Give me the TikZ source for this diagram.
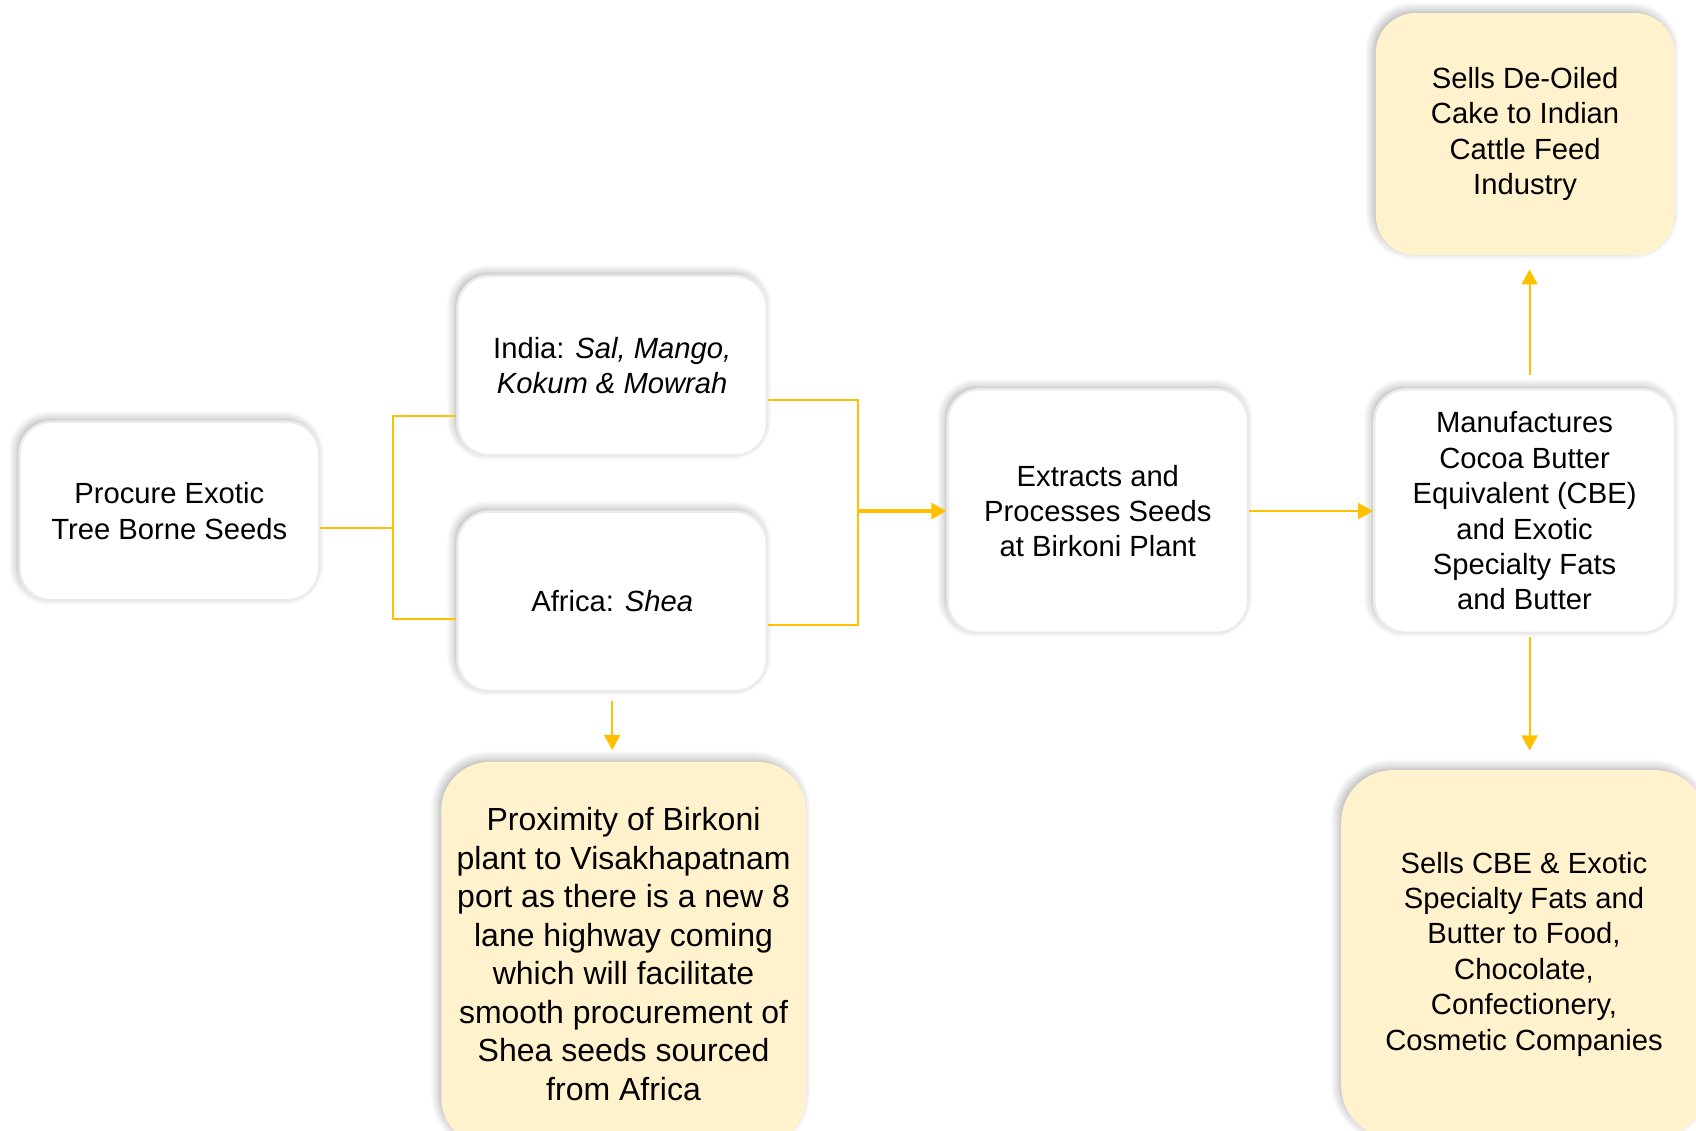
\documentclass[tikz,border=0pt]{standalone}
\usepackage{fontspec}
\setmainfont{Liberation Sans}
\usepackage{tikz}
\usetikzlibrary{positioning}
\usetikzlibrary{arrows.meta}
\usetikzlibrary{shadows.blur}
\pgfdeclarelayer{nodelayer}
\pgfdeclarelayer{edgelayer}
\pgfsetlayers{nodelayer,edgelayer,main}
\definecolor{amber}{HTML}{FFC000}
\definecolor{cream}{HTML}{FFF2CC}
\definecolor{rim}{HTML}{EBEBEB}
\tikzset{
  card/.style={rectangle, rounded corners=16pt, draw=rim, line width=1.2pt, fill=white,
    align=center, inner sep=0pt, font=\fontsize{14.6}{17.7}\selectfont,
    blur shadow={shadow xshift=-1.5pt, shadow yshift=1.5pt, shadow blur steps=8,
      shadow blur radius=4pt, shadow opacity=30}},
  note/.style={card, draw=none, fill=cream, rounded corners=24pt},
  seedbox/.style={card, minimum width=154.7pt, minimum height=89.8pt},
  plantbox/.style={card, minimum width=150.3pt, minimum height=121.7pt},
  link/.style={draw=amber, line width=1pt},
  flow/.style={link, -{Triangle[width=8pt,length=7.5pt]}},
}

\begin{document}
\begin{tikzpicture}[x=54.08pt, y=-54.08pt]
  \useasboundingbox (0,0) rectangle (15.68,10.45);
  \begin{pgfonlayer}{nodelayer}
    \node [card, minimum width=149.8pt, minimum height=89.2pt] (0) at (1.565, 4.725) {Procure Exotic\\Tree Borne Seeds};
    \node [seedbox] (1) at (5.66, 3.38) {India: \textit{Sal, Mango,}\\\textit{Kokum \& Mowrah}};
    \node [seedbox] (2) at (5.66, 5.56) {Africa: \textit{Shea}};
    \node [plantbox] (3) at (10.15, 4.725) {Extracts and\\Processes Seeds\\at Birkoni Plant};
    \node [plantbox] (4) at (14.095, 4.725) {Manufactures\\Cocoa Butter\\Equivalent (CBE)\\and Exotic\\Specialty Fats\\and Butter};
    \node [note, rounded corners=20pt, minimum width=149.3pt, minimum height=121.1pt] (5) at (14.10, 1.24) {Sells De-Oiled\\Cake to Indian\\Cattle Feed\\Industry};
    \node [note, rounded corners=26pt, minimum width=182.8pt, minimum height=183.9pt] (6) at (14.09, 8.82) {Sells CBE \& Exotic\\Specialty Fats and\\Butter to Food,\\Chocolate,\\Confectionery,\\Cosmetic Companies};
    \node [note, font=\fontsize{16}{19.25}\selectfont, minimum width=182.2pt, minimum height=192pt] (7) at (5.765, 8.82) {Proximity of Birkoni\\plant to Visakhapatnam\\port as there is a new 8\\lane highway coming\\which will facilitate\\smooth procurement of\\Shea seeds sourced\\from Africa};
  \end{pgfonlayer}
  \begin{pgfonlayer}{edgelayer}
    \coordinate (8) at (3.63, 4.88);
    \coordinate (9) at (7.93, 4.725);
    \draw [link, line width=1.3pt] (0.east |- 8) to (8);
    \draw [link] ([yshift=-25.4pt]1.west) -| (8) |- ([yshift=-8.7pt]2.west);
    \draw [link] ([yshift=-17.3pt]1.east) -| (9) |- ([yshift=-11.9pt]2.east);
    \draw [flow, line width=1.6pt] (9) to (3.west);
    \draw [flow] (3.east) to (4.west);
    \draw [flow, shorten <=6.5pt, shorten >=6.5pt] ([xshift=2.5pt]4.north) to ([xshift=2.5pt]4.north |- 5.south);
    \draw [flow, shorten <=1.6pt, shorten >=9.2pt] ([xshift=2.5pt]4.south) to ([xshift=2.5pt]4.south |- 6.north);
    \draw [flow, shorten <=4.3pt, shorten >=5.4pt] (2.south) to (2.south |- 7.north);
  \end{pgfonlayer}
\end{tikzpicture}
\end{document}
